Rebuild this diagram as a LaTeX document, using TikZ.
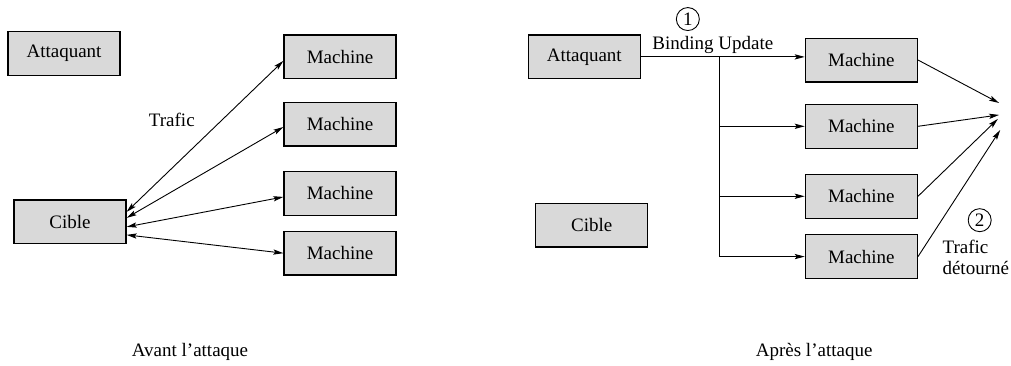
\documentclass[tikz,border=0pt]{standalone}
\usepackage{fontspec}
\setmainfont{Liberation Serif}
\usepackage{xcolor}
\usepackage{tikz}
\usetikzlibrary{positioning,arrows.meta}
\tikzset{every node/.style={font=\fontsize{9.5pt}{10.5pt}\selectfont}}
\definecolor{boxgray}{RGB}{217,217,217}

\begin{document}
\begin{tikzpicture}[
  >={Stealth[length=5pt,width=2.6pt,inset=1pt]},
  box/.style={
    draw,
    rectangle,
    fill=boxgray,
    line width=0.6pt,
    align=center,
    minimum width=1.97cm,
    minimum height=0.77cm,
    inner sep=0pt
  },
  num/.style={draw, circle, line width=0.45pt, minimum size=11.5pt, inner sep=0pt},
  link/.style={line width=0.45pt}
]
\useasboundingbox (0,0) rectangle (17.77,-6.416);

% avant l'attaque
\node[box] (att1) at (1.125,-0.94) {Attaquant};
\node[box] (cib1) at (1.23,-3.90) {Cible};

\node[box] (m11) at (5.976,-1.00) {Machine};
\node[box] (m12) at (5.976,-2.18) {Machine};
\node[box] (m13) at (5.976,-3.40) {Machine};
\node[box] (m14) at (5.976,-4.45) {Machine};

\node (traf1) at (3.02,-2.11) {Trafic};

\draw[link, <->] ([yshift=5pt]cib1.east) -- ([yshift=-2pt]m11.west);
\draw[link, <->] ([yshift=2pt]cib1.east) -- ([yshift=-1.5pt]m12.west);
\draw[link, <->] ([yshift=-2.5pt]cib1.east) -- ([yshift=-1.75pt]m13.west);
\draw[link, <->] ([yshift=-6.5pt]cib1.east) -- (m14.west);

\node (cap1) at (3.34,-6.19) {Avant l'attaque};

% apres l'attaque
\node[box] (att2) at (10.27,-1.00) {Attaquant};
\node[box] (cib2) at (10.40,-3.955) {Cible};

\node[box] (m21) at (15.14,-1.055) {Machine};
\node[box] (m22) at (15.14,-2.22) {Machine};
\node[box] (m23) at (15.14,-3.45) {Machine};
\node[box] (m24) at (15.14,-4.51) {Machine};

\coordinate (split) at (12.64,-1.00);
\draw[link, ->] (att2.east) -- (att2.east -| m21.west);
\draw[link] (split) -- (split |- m24.west);
\draw[link, ->] (split |- m22.west) -- (m22.west);
\draw[link, ->] (split |- m23.west) -- (m23.west);
\draw[link, ->] (split |- m24.west) -- (m24.west);

\node (bu) at (12.53,-0.79) {Binding Update};
\node[num] (n1) at (12.09,-0.335) {1};

\coordinate (t1) at (17.56,-1.81);
\coordinate (t2) at (17.56,-2.02);
\coordinate (t3) at (17.54,-2.09);
\coordinate (t4) at (17.58,-2.285);
\draw[link, ->] (m21.east) -- (t1);
\draw[link, ->] (m22.east) -- (t2);
\draw[link, ->] (m23.east) -- (t3);
\draw[link, ->] (m24.east) -- (t4);

\node[num] (n2) at (17.22,-3.87) {2};
\node[anchor=north west, align=left, inner sep=0pt] (traf2) at (16.56,-4.22)
{Trafic\\détourné};

\node (cap2) at (14.31,-6.19) {Après l'attaque};

\end{tikzpicture}
\end{document}
